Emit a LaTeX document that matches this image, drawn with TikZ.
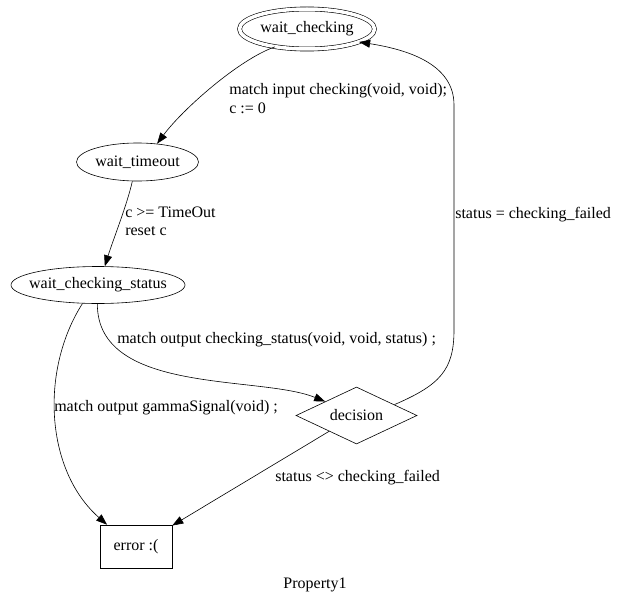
\documentclass[tikz,border=0pt]{standalone}
\usepackage{fontspec}
\setmainfont{Liberation Serif}
\usetikzlibrary{shapes.geometric,arrows.meta}
\newcommand{\stname}[1]{\makebox[0pt]{#1}}
\begin{document}
\begin{tikzpicture}[x=1pt,y=-1pt,line width=0.6pt,
	font=\fontsize{16}{18.5}\selectfont,
	state/.style={ellipse,draw,inner sep=0pt},
	arr/.style={-{Triangle[length=11pt,width=8pt]}},
	lbl/.style={anchor=north west,inner sep=0pt,align=left}]
	\useasboundingbox (0,0) rectangle (629,594);
	\node[state,double,double distance=3.5pt,minimum width=135pt,minimum height=40pt] (wc) at (307,29) {\stname{wait\_checking}};
	\node[state,minimum width=122pt,minimum height=38pt] (wt) at (137.5,162) {\stname{wait\_timeout}};
	\node[state,minimum width=174pt,minimum height=37pt] (wcs) at (98,285) {\stname{wait\_checking\_status}};
	\node[diamond,draw,aspect=2.1,inner sep=0pt,minimum width=121pt,minimum height=57pt] (dec) at (356.5,415.5) {decision};
	\node[draw,rectangle,minimum width=72pt,minimum height=43pt] (err) at (136,546.5) {error :(};
	\draw[arr] (wc.209) .. controls (238,60) and (182,110) .. (wt.43);
	\draw[arr] (wt.255) .. controls (127,205) and (113,240) .. (wcs.70);
	\draw[arr] (wcs.230) .. controls (40,370) and (45,470) .. (err.143);
	\draw[arr] (wcs.268) .. controls (97,395) and (260,375) .. (dec.156);
	\draw[arr] (dec.210) -- (err.30);
	\draw[arr] (dec.16) .. controls (440,385) and (454,370) .. (454,330) -- (454,105) .. controls (454,65) and (410,50) .. (wc.346);
	\node[lbl] (l1) at (229,83.5) {match input checking(void, void);\\c := 0};
	\node[lbl] (l2) at (125,206.5) {c >= TimeOut\\reset c};
	\node[lbl,anchor=base west] (l3) at (455,218) {status = checking\_failed};
	\node[lbl,anchor=base west] (l4) at (117,343) {match output checking\_status(void, void, status) ;};
	\node[lbl,anchor=base west] (l5) at (54,411) {match output gammaSignal(void) ;};
	\node[lbl,anchor=base west] (l6) at (275,481) {status <> checking\_failed};
	\node[anchor=base] (title) at (315,588) {Property1};
\end{tikzpicture}
\end{document}
